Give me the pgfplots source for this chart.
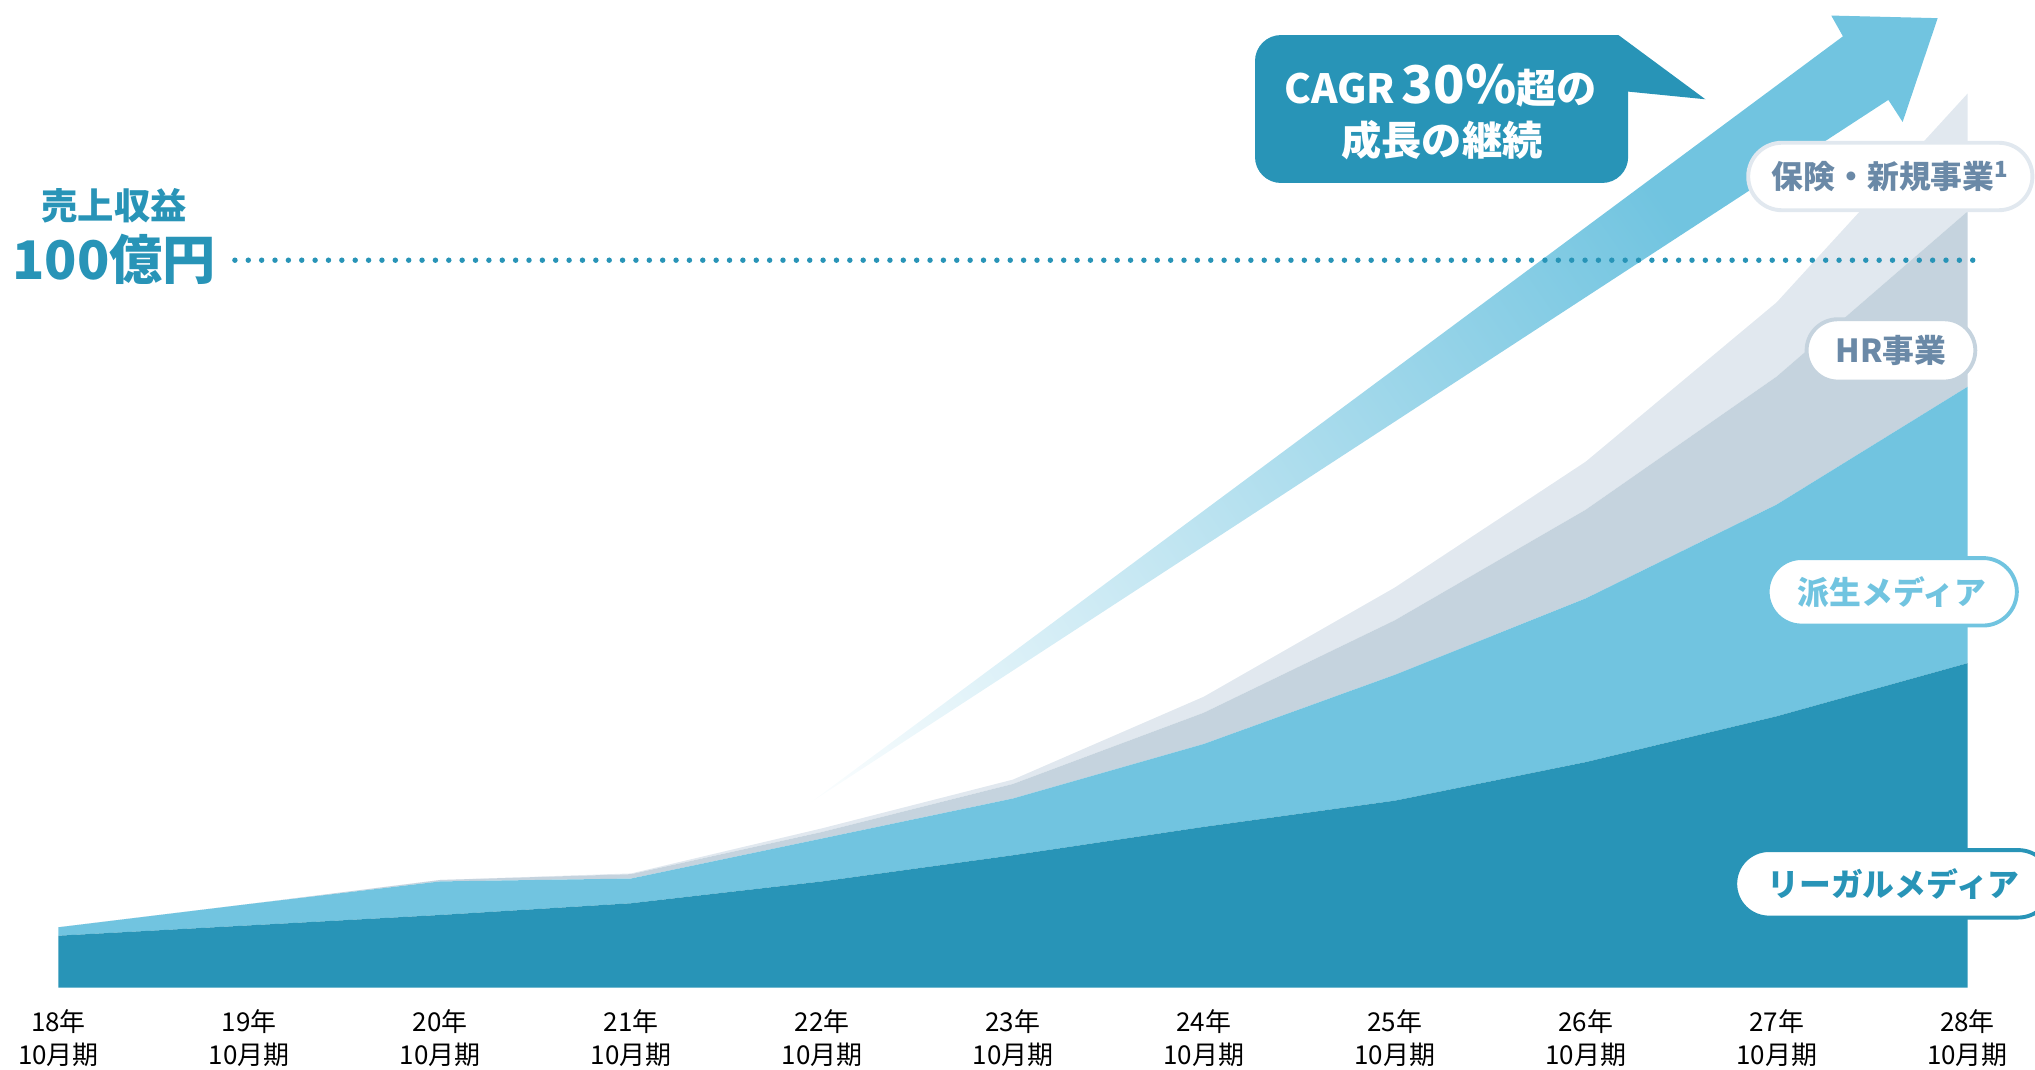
\documentclass[border=0pt]{standalone}
\usepackage{pgfplots}
\pgfplotsset{compat=1.18}
\usepackage{pgfplotstable}
\usepackage{fontspec}
\setmainfont{Noto Sans CJK JP}
\usetikzlibrary{shapes.misc}

\definecolor{cDark}{HTML}{2894B7}
\definecolor{cLight}{HTML}{71C4E0}
\definecolor{cHR}{HTML}{C5D3DE}
\definecolor{cIns}{HTML}{E1E8EF}
\definecolor{cSlate}{HTML}{6A89A7}

\pgfdeclarehorizontalshading{arrowshade}{100bp}{color(0bp)=(white); color(14bp)=(white); color(68bp)=(cLight); color(100bp)=(cLight)}

% increments of each business (100 million yen), stacked
\pgfplotstableread{
x  legal deriv hr    ins
0  7.14  1.16  0.00  0.00
1  8.56  2.94  0.00  0.00
2  9.99  4.61  0.20  0.00
3  11.60 3.40  0.60  0.10
4  14.60 5.90  0.90  0.50
5  18.20 7.80  2.00  0.60
6  22.10 11.40 4.30  2.20
7  25.70 17.30 7.50  4.50
8  31.00 22.50 12.20 6.60
9  37.30 29.10 17.60 10.20
10 44.60 38.00 24.10 16.20
}\data

\begin{document}
\begin{tikzpicture}
\begin{axis}[
  scale only axis, width=1568pt, height=761pt,
  xmin=-0.3059, xmax=10.3535, ymin=0, ymax=135.77,
  hide axis, clip=false,
  stack plots=y,
]
\coordinate (TL) at (rel axis cs:0,1);
\addplot[draw=none, fill=cDark] table[x=x, y=legal] {\data} \closedcycle;
\addplot[draw=none, fill=cLight] table[x=x, y=deriv] {\data} \closedcycle;
\addplot[draw=none, fill=cHR] table[x=x, y=hr] {\data} \closedcycle;
\addplot[draw=none, fill=cIns] table[x=x, y=ins] {\data} \closedcycle;
\pgfplotsinvokeforeach{0,...,10}{
  \node[align=center, inner sep=0pt, font=\fontsize{20}{25}\selectfont] at (axis cs:#1,-6.96)
    {\pgfmathtruncatemacro\yy{18+#1}\yy 年\\10月期};
}
\end{axis}

\begin{scope}[shift={(TL)}, x=1pt, y=-1pt]
  % growth arrow
  \shade[shading=arrowshade, shading angle=34.8]
    (625,618) -- (1420,28) -- (1411,12) -- (1493,14) -- (1466,94) -- (1455,77) -- cycle;
  % callout
  \fill[cDark, rounded corners=20pt] (967,27) rectangle (1254.5,141);
  \fill[cDark] (1215,27) -- (1247,27) -- (1314,76.5) -- (1254.5,70.6) -- (1254.5,65) -- (1215,65) -- cycle;
  \node[text=white, inner sep=0pt, anchor=base] at (1110,80)
    {\bfseries\fontsize{31}{31}\selectfont CAGR\,{\fontsize{40}{40}\selectfont 30\%}超の};
  \node[text=white, inner sep=0pt, anchor=base] at (1111,120)
    {\bfseries\fontsize{31}{31}\selectfont 成長の継続};
  % 100 oku line
  \draw[cDark, line width=4.2pt, line cap=round, dash pattern=on 0pt off 10.3pt] (181,200.5) -- (1521,200.5);
  \node[text=cDark, inner sep=0pt, anchor=base] at (88,169)
    {\bfseries\fontsize{28}{28}\selectfont 売上収益};
  \node[text=cDark, inner sep=0pt, anchor=base] at (88,215)
    {\bfseries\fontsize{41}{41}\selectfont 100億円};
  % pills
  \tikzset{pill/.style={rounded rectangle, fill=white, line width=3pt, inner sep=0pt,
     font=\bfseries\fontsize{24.5}{24.5}\selectfont}}
  \node[pill, draw=cIns, text=cSlate, minimum width=219pt, minimum height=52pt] at (1456.5,136)
    {保険・新規事業\textsuperscript{1}};
  \node[pill, draw=cHR, text=cSlate, minimum width=130pt, minimum height=48pt] at (1457,270)
    {HR事業};
  \node[pill, draw=cLight, text=cLight, minimum width=192pt, minimum height=52pt] at (1458,456)
    {派生メディア};
  \node[pill, draw=cDark, text=cDark, minimum width=244pt, minimum height=52pt] at (1459,681)
    {リーガルメディア};
\end{scope}

\pgfresetboundingbox
\path[use as bounding box] (TL) rectangle ++(1568pt,-824pt);
\end{tikzpicture}
\end{document}
